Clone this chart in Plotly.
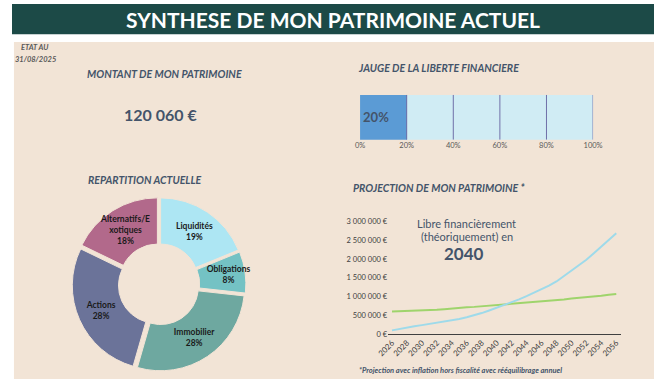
import plotly.graph_objects as go

W, H = 664, 387

# ---------------- data ----------------
date_label = "31/08/2025"
patrimoine_total = "120 060 €"

gauge_value = [0.20]
gauge_ticks = [0, 0.2, 0.4, 0.6, 0.8, 1.0]
gauge_ticktext = ["0%", "20%", "40%", "60%", "80%", "100%"]

pie_labels = ["Liquidités", "Obligations", "Immobilier", "Actions", "Alternatifs/E<br>xotiques"]
pie_values = [19, 8, 28, 28, 18]
pie_colors = ["#ade6f3", "#74c2c4", "#6ea8a0", "#6b7399", "#b2698b"]

years = list(range(2026, 2057))
patrimoine_proj = [100000, 140000, 185000, 210000, 240000, 270000, 300000, 330000, 365000, 405000,
                   450000, 500000, 560000, 630000, 700000, 775000, 850000, 925000, 1010000, 1100000,
                   1190000, 1290000, 1400000, 1540000, 1680000, 1820000, 1980000, 2150000, 2320000,
                   2490000, 2680000]
objectif_proj = [600000, 605000, 610000, 620000, 630000, 640000, 650000, 665000, 685000, 700000,
                 715000, 725000, 740000, 755000, 770000, 790000, 810000, 825000, 840000, 855000,
                 870000, 885000, 900000, 920000, 945000, 960000, 975000, 995000, 1020000, 1045000,
                 1065000]
y_tickvals = [0, 500000, 1000000, 1500000, 2000000, 2500000, 3000000]
y_ticktext = ["0 €", "500 000 €", "1 000 000 €", "1 500 000 €", "2 000 000 €", "2 500 000 €", "3 000 000 €"]
annee_liberte = "2040"

# ---------------- helpers ----------------
def px(x):
    return x / W

def py(y):
    return 1 - y / H

FONT = "Lato"
SLATE = "#44546a"

fig = go.Figure()

# Donut
fig.add_trace(go.Pie(
    labels=pie_labels, values=pie_values, sort=False, direction="clockwise", rotation=0,
    hole=0.45, pull=[0.035] * len(pie_values),
    marker=dict(colors=pie_colors, line=dict(color="#f2e4d6", width=1)),
    texttemplate="<b>%{label}<br>%{value}%</b>", textposition="inside",
    insidetextorientation="horizontal",
    textfont=dict(family=FONT, size=8.5, color="#1a1a1a"),
    domain=dict(x=[px(62), px(242)], y=[py(376), py(198)]),
    showlegend=False, hoverinfo="label+value",
))

# Projection lines
fig.add_trace(go.Scatter(x=years, y=objectif_proj, mode="lines",
                         line=dict(color="#9fd46c", width=2), xaxis="x", yaxis="y",
                         showlegend=False, name="Objectif"))
fig.add_trace(go.Scatter(x=years, y=patrimoine_proj, mode="lines",
                         line=dict(color="#9edaea", width=2), xaxis="x", yaxis="y",
                         showlegend=False, name="Patrimoine"))

# Gauge
fig.add_trace(go.Bar(x=gauge_value, y=[0], orientation="h", marker=dict(color="#5b9bd5", line=dict(width=0)),
                     width=1, xaxis="x2", yaxis="y2", showlegend=False,
                     text=["<b>%d%%</b>" % round(gauge_value[0] * 100)], textposition="inside",
                     insidetextanchor="start", textfont=dict(family=FONT, size=13, color=SLATE)))
fig.add_trace(go.Bar(x=[1 - v for v in gauge_value], y=[0], orientation="h",
                     marker=dict(color="#d0ecf4", line=dict(width=0)),
                     width=1, xaxis="x2", yaxis="y2", showlegend=False, hoverinfo="skip"))

shapes = [
    dict(type="rect", xref="paper", yref="paper", x0=0, x1=1, y0=py(31), y1=1,
         fillcolor="#1c4a47", line=dict(width=0), layer="below"),
    dict(type="rect", xref="paper", yref="paper", x0=px(2), x1=1, y0=py(384), y1=py(39),
         fillcolor="#f2e4d6", line=dict(width=0), layer="below"),
]
for t in gauge_ticks[1:]:
    shapes.append(dict(type="line", xref="x2", yref="y2", x0=t, x1=t, y0=-0.5, y1=0.5,
                       line=dict(color="#7070a8", width=1)))

annotations = [
    dict(text="<b>SYNTHESE DE MON PATRIMOINE ACTUEL</b>", x=px(332), y=py(15.5), xref="paper", yref="paper",
         showarrow=False, font=dict(family=FONT, size=21, color="white"), xanchor="center", yanchor="middle"),
    dict(text="<b><i>ETAT AU</i></b>", x=px(7), y=py(45), xref="paper", yref="paper", showarrow=False,
         xanchor="left", yanchor="middle", font=dict(family=FONT, size=7.5, color="#595959")),
    dict(text="<b><i>%s</i></b>" % date_label, x=px(1), y=py(57), xref="paper", yref="paper", showarrow=False,
         xanchor="left", yanchor="middle", font=dict(family=FONT, size=7.5, color="#595959")),
    dict(text="<b><i>MONTANT DE MON PATRIMOINE</i></b>", x=px(76), y=py(72), xref="paper", yref="paper",
         showarrow=False, xanchor="left", yanchor="middle", font=dict(family=FONT, size=10.5, color=SLATE)),
    dict(text="<b>%s</b>" % patrimoine_total, x=px(154), y=py(113), xref="paper", yref="paper",
         showarrow=False, xanchor="center", yanchor="middle", font=dict(family=FONT, size=16, color=SLATE)),
    dict(text="<b><i>JAUGE DE LA LIBERTE FINANCIERE</i></b>", x=px(356), y=py(66), xref="paper", yref="paper",
         showarrow=False, xanchor="left", yanchor="middle", font=dict(family=FONT, size=10.5, color=SLATE)),
    dict(text="<b><i>REPARTITION ACTUELLE</i></b>", x=px(77), y=py(180), xref="paper", yref="paper",
         showarrow=False, xanchor="left", yanchor="middle", font=dict(family=FONT, size=10.5, color=SLATE)),
    dict(text="<b><i>PROJECTION DE MON PATRIMOINE *</i></b>", x=px(351), y=py(188), xref="paper", yref="paper",
         showarrow=False, xanchor="left", yanchor="middle", font=dict(family=FONT, size=10.5, color=SLATE)),
    dict(text="Libre financièrement", x=px(470), y=py(225), xref="paper", yref="paper",
         showarrow=False, xanchor="center", yanchor="middle", font=dict(family=FONT, size=11, color=SLATE)),
    dict(text="(théoriquement) en", x=px(471), y=py(238), xref="paper", yref="paper",
         showarrow=False, xanchor="center", yanchor="middle", font=dict(family=FONT, size=11, color=SLATE)),
    dict(text="<b>%s</b>" % annee_liberte, x=px(467), y=py(255), xref="paper", yref="paper",
         showarrow=False, xanchor="center", yanchor="middle", font=dict(family=FONT, size=17, color=SLATE)),
    dict(text="<b><i>*Projection avec inflation hors fiscalité avec rééquilibrage annuel</i></b>",
         x=px(357), y=py(375), xref="paper", yref="paper", showarrow=False, xanchor="left", yanchor="middle",
         font=dict(family=FONT, size=7.5, color=SLATE)),
]

fig.update_layout(
    width=W, height=H, margin=dict(l=0, r=0, t=0, b=0),
    paper_bgcolor="white", plot_bgcolor="rgba(0,0,0,0)",
    barmode="stack", bargap=0,
    font=dict(family=FONT),
    uniformtext=dict(minsize=8.5, mode="show"),
    shapes=shapes, annotations=annotations,
    xaxis=dict(domain=[px(389), px(630)], range=[2025.48, 2056.65], showgrid=False, zeroline=False,
               showline=True, linecolor="#404040", linewidth=1, tickvals=years[::2], tickangle=-45,
               tickfont=dict(family=FONT, size=8, color="#404040"), ticks="", fixedrange=True),
    yaxis=dict(domain=[py(338), py(222.5)], range=[0, 3000000], showgrid=False, zeroline=False,
               showline=False, tickvals=y_tickvals, ticktext=y_ticktext, ticks="",
               tickfont=dict(family=FONT, size=7.5, color="#404040"), fixedrange=True),
    xaxis2=dict(domain=[px(360), px(601)], range=[0, 1], anchor="y2", showgrid=False, zeroline=False,
                showline=False, tickvals=gauge_ticks, ticktext=gauge_ticktext, ticks="",
                tickfont=dict(family=FONT, size=7.5, color="#595959"), fixedrange=True),
    yaxis2=dict(domain=[py(139), py(93)], range=[-0.5, 0.5], anchor="x2", visible=False, fixedrange=True),
)

fig.write_html("out.html", config={"displayModeBar": False},
               post_script="document.body.style.margin='0px';document.body.style.overflow='hidden';")
